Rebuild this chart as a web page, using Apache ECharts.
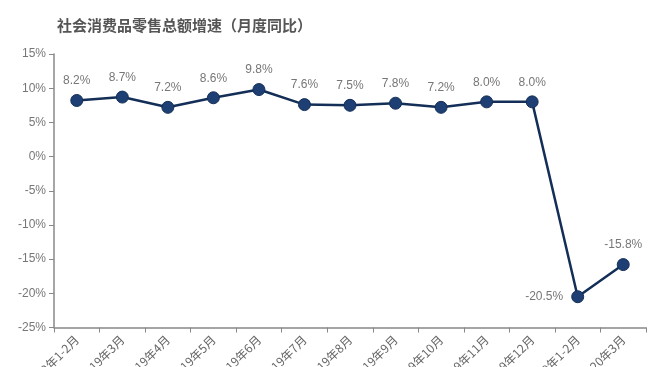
<!DOCTYPE html>
<html><head><meta charset="utf-8">
<script src="https://cdn.jsdelivr.net/npm/echarts@6/dist/echarts.min.js"></script>
<style>html,body{margin:0;padding:0;background:#fff}#c{width:660px;height:367px}</style>
</head><body><div id="c"></div>
<script>
const title = '社会消费品零售总额增速（月度同比）';
const categories = ['2019年1-2月','2019年3月','2019年4月','2019年5月','2019年6月','2019年7月','2019年8月','2019年9月','2019年10月','2019年11月','2019年12月','2020年1-2月','2020年3月'];
const values = [8.2, 8.7, 7.2, 8.6, 9.8, 7.6, 7.5, 7.8, 7.2, 8.0, 8.0, -20.5, -15.8];
const yMin = -25, yMax = 15, yStep = 5;

const chart = echarts.init(document.getElementById('c'));
const font = '"Liberation Sans", "Noto Sans CJK SC", sans-serif';
chart.setOption({
  animation: false,
  textStyle: { fontFamily: font },
  title: {
    text: title, left: 52, top: 13,
    textStyle: { fontSize: 15, fontWeight: 'bold', color: '#555', fontFamily: '"Noto Sans CJK SC", sans-serif' }
  },
  grid: { left: 54, right: 14, top: 54, bottom: 39.5, containLabel: false, outerBoundsMode: 'none' },
  xAxis: {
    type: 'category', data: categories, boundaryGap: true,
    axisLine: { onZero: false, lineStyle: { color: '#888', width: 1.5 } },
    axisTick: { show: true, length: 5, lineStyle: { color: '#888' } },
    axisLabel: { rotate: 45, interval: 0, margin: 10, fontSize: 12, color: '#666', fontFamily: '"Noto Sans CJK SC", sans-serif' }
  },
  yAxis: {
    type: 'value', min: yMin, max: yMax, interval: yStep,
    splitLine: { show: false },
    axisLine: { show: true, lineStyle: { color: '#888', width: 1.5 } },
    axisTick: { show: true, length: 5, lineStyle: { color: '#888' } },
    axisLabel: { formatter: v => v + '%', fontSize: 12, color: '#777', margin: 8 }
  },
  series: [{
    type: 'line', data: values.map((v, i) => i === 11 ? { value: v, label: { position: 'left', distance: 8 } } : v),
    symbol: 'circle', symbolSize: 12,
    lineStyle: { color: '#142f57', width: 2.5 },
    itemStyle: { color: '#1d3f73', borderColor: '#142f57', borderWidth: 1 },
    label: { show: true, position: 'top', distance: 7, formatter: p => p.value.toFixed(1) + '%', fontSize: 12, color: '#777' }
  }]
});
</script></body></html>
